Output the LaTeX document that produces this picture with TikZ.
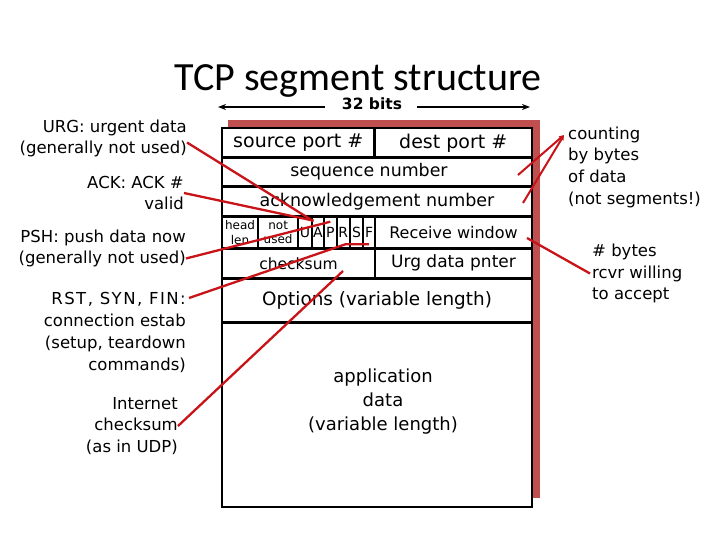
\documentclass[tikz,border=0pt]{standalone}
\usepackage{fontspec}
\setmainfont{DejaVu Sans}
\newfontfamily\titlefont{Carlito}
\usetikzlibrary{arrows.meta,calc}
\definecolor{shadowred}{RGB}{192,80,80}
\definecolor{linkred}{RGB}{200,20,25}
\newcommand{\fs}[1]{\fontsize{#1}{20}\selectfont}
\begin{document}
\begin{tikzpicture}[x=1pt,y=-1pt,
  field/.style={draw, line width=2.5pt, inner sep=0pt, fill=white,
    font=\fontsize{17.5}{20}\selectfont},
  flag/.style={draw, line width=2pt, inner sep=0pt, minimum height=31.6pt, fill=white,
    font=\fontsize{14}{16}\selectfont},
  small/.style={draw, line width=2pt, inner sep=0pt, minimum height=31.6pt, fill=white,
    align=center, font=\fontsize{12}{14.5}\selectfont},
  lab/.style={inner sep=0pt, font=\fontsize{16.5}{21.7}\selectfont},
  conn/.style={draw=linkred, line width=2.3pt},
  dimarrow/.style={line width=1.8pt, -{Stealth[length=8pt,width=6pt]}}]
\useasboundingbox[fill=white] (0,0) rectangle (720,540);

% title and width
\node[anchor=base, font=\titlefont\fontsize{40}{48}\selectfont] (title) at (358,91) {TCP segment structure};
\node[anchor=base, font=\bfseries\fontsize{15.5}{18}\selectfont, inner sep=0pt] (bits) at (372,109.5) {32 bits};
\coordinate (lstart) at (325,107);
\coordinate (ltip) at (218,107);
\coordinate (rstart) at (417,107);
\coordinate (rtip) at (530,107);
\draw[dimarrow] (lstart) -- (ltip);
\draw[dimarrow] (rstart) -- (rtip);

% shadow
\fill[shadowred] (228,120) rectangle (540,498);

% fields
\node[field, font=\fs{19}, minimum width=152.5pt, minimum height=29.7pt] (src) at (298.25,142.85) {source port \#};
\node[field, font=\fs{19}, minimum width=157.5pt, minimum height=29.7pt] (dst) at (453.25,142.85) {dest port \#};
\node[field, minimum width=310pt, minimum height=29pt] (seq) at (377,172.2) {};
\node[lab, font=\fs{17.4}] (seqt) at (369,172) {sequence number};
\node[field, minimum width=310pt, minimum height=30pt] (ack) at (377,201.7) {acknowledgement number};
\node[small, minimum width=36pt] (head) at (240,232.5) {head\\len};
\node[small, minimum width=40.3pt] (notu) at (278.15,232.5) {not\\used};
\node[flag, minimum width=13.4pt] (U) at (305,232.5) {U};
\node[flag, minimum width=12.3pt] (A) at (317.85,232.5) {A};
\node[flag, minimum width=12.7pt] (P) at (330.35,232.5) {P};
\node[flag, minimum width=13.3pt] (R) at (343.35,232.5) {R};
\node[flag, minimum width=13.3pt] (S) at (356.65,232.5) {S};
\node[flag, minimum width=11.7pt] (F) at (369.15,232.5) {F};
\node[field, font=\fs{16}, minimum width=157pt, minimum height=31.6pt] (rwin) at (453.5,232.5) {Receive window};
\node[field, font=\fs{15.5}, minimum width=153pt, minimum height=30pt] (cks) at (298.5,263.3) {checksum};
\node[field, font=\fs{17}, minimum width=157pt, minimum height=30pt] (urgp) at (453.5,263.3) {Urg data pnter};
\node[field, font=\fs{18.4}, minimum width=310pt, minimum height=44.4pt] (opt) at (377,300.5) {Options (variable length)};
\node[field, minimum width=310pt, minimum height=184.3pt] (data) at (377,414.85) {};
\node[lab, align=center, font=\fontsize{18}{24}\selectfont] (datat) at (383,402) {application\\data\\(variable length)};

% left labels
\node[lab, align=right, anchor=east] (urg) at (187,138.5) {URG: urgent data\\(generally not used)};
\node[lab, align=right, anchor=east] (ackl) at (184,193) {ACK: ACK \#\\valid};
\node[lab, align=right, anchor=east] (psh) at (186,248.5) {PSH: push data now\\(generally not used)};
\node[lab, align=right, anchor=east] (rst) at (186,332.5) {{\addfontfeature{LetterSpace=9}RST, SYN, FIN:}\\connection estab\\(setup, teardown\\commands)};
\node[lab, align=right, anchor=east] (inet) at (178,426) {Internet\\checksum\\(as in UDP)};

% right labels
\node[lab, align=left, anchor=west] (cnt) at (568,167) {counting\\by bytes\\of data\\(not segments!)};
\node[lab, align=left, anchor=west] (bytes) at (592,273.5) {\# bytes\\rcvr willing\\to accept};

% connectors
\coordinate (ckEnd) at (343,271);
\coordinate (apex) at (564,135);
\draw[conn] ([yshift=-4pt]urg.east) -- ([yshift=-5pt]U.north east);
\draw[conn] (ackl.east) -- ([xshift=1pt,yshift=-5pt]U.north east);
\draw[conn] ([yshift=-10pt]psh.east) -- ([yshift=-6pt]P.north);
\draw[conn] ([xshift=3pt,yshift=34.5pt]rst.east) -- ([xshift=2pt,yshift=5pt]R.south) -- ([yshift=5pt]F.south);
\draw[conn] (inet.east) -- (ckEnd);
\draw[conn, line width=2pt, -{Triangle[length=5pt,width=4.5pt]}] ([xshift=141pt,yshift=-2.8pt]seq.center) -- (apex);
\draw[conn, line width=2pt, -{Triangle[length=5pt,width=4.5pt]}] ([xshift=146pt,yshift=-1.3pt]ack.center) -- (apex);
\draw[conn] ([xshift=73.5pt,yshift=-5.5pt]rwin.center) -- ([xshift=-2pt]bytes.west);
\end{tikzpicture}
\end{document}
